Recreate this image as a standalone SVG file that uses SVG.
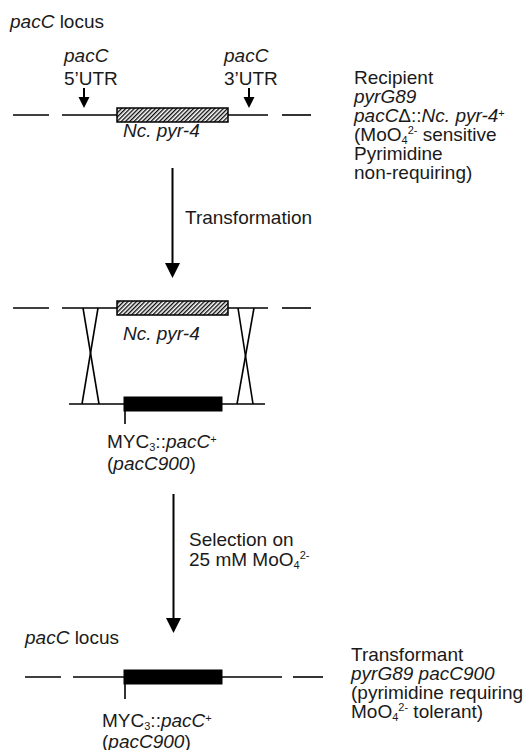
<svg xmlns="http://www.w3.org/2000/svg" width="525" height="750" viewBox="0 0 525 750">
<style>
text{font-family:"Liberation Sans",Arial,Helvetica,sans-serif;font-size:19px;fill:#1a1a1a}
.i{font-style:italic}
.ln{stroke:#000;stroke-width:1.6;fill:none}
.sh{stroke:#000;stroke-width:2;fill:none}
.hb{fill:url(#hatch);stroke:#000;stroke-width:1.5}
.bb{fill:#000;stroke:#000;stroke-width:1}
.s{font-size:11px}
</style>
<defs>
<pattern id="hatch" patternUnits="userSpaceOnUse" width="3" height="3" patternTransform="rotate(45)">
<rect width="3" height="3" fill="#fff"/>
<line x1="0.7" y1="0" x2="0.7" y2="3" stroke="#000" stroke-width="1.3"/>
</pattern>
<marker id="ah" viewBox="0 0 10 10" refX="0" refY="5" markerUnits="userSpaceOnUse" markerWidth="15" markerHeight="15" orient="auto">
<path d="M0,0 L10,5 L0,10 z" fill="#000"/>
</marker>
<marker id="ahs" viewBox="0 0 10 10" refX="0" refY="5" markerUnits="userSpaceOnUse" markerWidth="11" markerHeight="12" orient="auto">
<path d="M0,0 L10,5 L0,10 z" fill="#000"/>
</marker>
</defs>

<g id="recipient-locus">
<text x="10" y="28"><tspan class="i">pacC</tspan> locus</text>
<line class="ln" x1="13" y1="115" x2="49" y2="115"/>
<line class="ln" x1="62" y1="115" x2="117" y2="115"/>
<line class="ln" x1="228" y1="115" x2="268" y2="115"/>
<line class="ln" x1="282" y1="115" x2="311" y2="115"/>
<rect class="hb" x="117" y="108" width="111" height="14"/>
<text class="i" x="123" y="137">Nc. pyr-4</text>
</g>

<g id="utr5">
<text class="i" x="64" y="62">pacC</text>
<text x="64" y="85">5’UTR</text>
</g>
<g id="utr3">
<text class="i" x="224" y="62">pacC</text>
<text x="224" y="85">3’UTR</text>
</g>

<g id="recipient-label">
<text x="354" y="84">Recipient</text>
<text class="i" x="354" y="103">pyrG89</text>
<text x="354" y="122"><tspan class="i">pacC</tspan>Δ::<tspan class="i">Nc. pyr-4</tspan><tspan class="s" dy="-5">+</tspan></text>
<text x="354" y="141">(MoO<tspan class="s" dy="3">4</tspan><tspan class="s" dy="-10">2-</tspan><tspan dy="7">  sensitive</tspan></text>
<text x="354" y="160">Pyrimidine</text>
<text x="354" y="179">non-requiring)</text>
</g>

<g id="recombination">
<line class="ln" x1="13" y1="308" x2="49" y2="308"/>
<line class="ln" x1="62" y1="308" x2="117" y2="308"/>
<line class="ln" x1="228" y1="308" x2="268" y2="308"/>
<line class="ln" x1="282" y1="308" x2="311" y2="308"/>
<rect class="hb" x="117" y="301" width="111" height="14"/>
<text class="i" x="123" y="340">Nc. pyr-4</text>
<line class="ln" x1="69" y1="404" x2="265" y2="404"/>
<rect class="bb" x="124" y="397" width="98" height="14"/>
<line class="ln" x1="125" y1="411" x2="125" y2="424"/>
<text x="107" y="448">MYC<tspan class="s" dy="3">3</tspan><tspan dy="-3">::</tspan><tspan class="i">pacC</tspan><tspan class="s" dy="-5">+</tspan></text>
<text x="107" y="470">(<tspan class="i">pacC900</tspan>)</text>
</g>

<g id="crossovers">
<line class="ln" x1="83" y1="308" x2="99" y2="404"/>
<line class="ln" x1="98" y1="308" x2="82" y2="404"/>
<line class="ln" x1="238" y1="308" x2="253" y2="404"/>
<line class="ln" x1="254" y1="308" x2="237" y2="404"/>
</g>

<g id="transformant-locus">
<text x="25" y="644"><tspan class="i">pacC</tspan> locus</text>
<line class="ln" x1="25" y1="677" x2="61" y2="677"/>
<line class="ln" x1="73" y1="677" x2="124" y2="677"/>
<line class="ln" x1="222" y1="677" x2="282" y2="677"/>
<line class="ln" x1="293" y1="677" x2="323" y2="677"/>
<rect class="bb" x="124" y="670" width="98" height="14"/>
<line class="ln" x1="125" y1="684" x2="125" y2="699"/>
<text x="102" y="727">MYC<tspan class="s" dy="3">3</tspan><tspan dy="-3">::</tspan><tspan class="i">pacC</tspan><tspan class="s" dy="-5">+</tspan></text>
<text x="102" y="748">(<tspan class="i">pacC900</tspan>)</text>
</g>

<g id="transformant-label">
<text x="351" y="661">Transformant</text>
<text class="i" x="351" y="680">pyrG89 pacC900</text>
<text x="351" y="699">(pyrimidine requiring</text>
<text x="351" y="718">MoO<tspan class="s" dy="3">4</tspan><tspan class="s" dy="-10">2-</tspan><tspan dy="7"> tolerant)</tspan></text>
</g>

<g id="connectors">
<line class="sh" x1="84" y1="88" x2="84" y2="97" marker-end="url(#ahs)"/>
<line class="sh" x1="249" y1="88" x2="249" y2="97" marker-end="url(#ahs)"/>
<line class="sh" x1="172.5" y1="168" x2="172.5" y2="263" marker-end="url(#ah)"/>
<text x="185" y="224">Transformation</text>
<line class="sh" x1="173.5" y1="494" x2="173.5" y2="618" marker-end="url(#ah)"/>
<text x="189" y="546">Selection on</text>
<text x="189" y="566">25 mM MoO<tspan class="s" dy="3">4</tspan><tspan class="s" dy="-10">2-</tspan></text>
</g>
</svg>
